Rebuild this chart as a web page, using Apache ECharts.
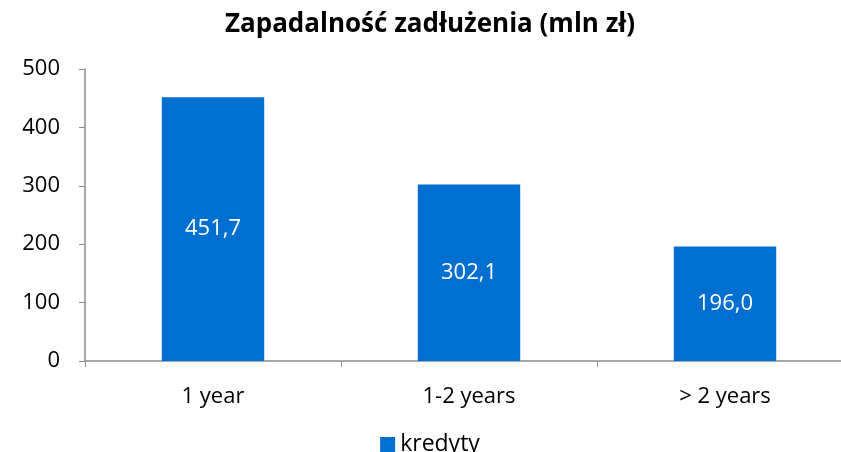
<!DOCTYPE html>
<html>
<head>
<meta charset="utf-8">
<script src="https://cdn.jsdelivr.net/npm/echarts@6/dist/echarts.min.js"></script>
<style>
  html, body { margin: 0; padding: 0; background: #fff; overflow: hidden; }
  #chart { width: 860px; height: 452px; }
</style>
</head>
<body>
<div id="chart"></div>
<script>
const categories = ['1 year', '1-2 years', '> 2 years']
const kredyty = [451.7, 302.1, 196.0]
const yTicks = [0, 100, 200, 300, 400, 500]

// the plot area runs past the right edge in the original, so the canvas is a bit wider than the window
const chart = echarts.init(document.getElementById('chart'))
const font = 'Open Sans'

const option = {
  animation: false,
  textStyle: { fontFamily: font },
  title: {
    text: 'Zapadalność zadłużenia (mln zł)',
    left: 'center',
    top: 7,
    textStyle: { fontFamily: font, fontSize: 26, fontWeight: 'bold', color: '#000' }
  },
  legend: {
    data: ['kredyty'],
    top: 428,
    left: 'center',
    icon: 'rect',
    itemWidth: 15,
    itemHeight: 15,
    itemGap: 6,
    textStyle: { fontFamily: font, fontSize: 23, color: '#000' }
  },
  grid: {
    left: 85,
    right: 7,
    top: 69,
    bottom: 91,
    containLabel: false
  },
  xAxis: {
    type: 'category',
    data: categories,
    axisLine: { lineStyle: { color: '#8c8c8c', width: 1.5 } },
    axisTick: { show: true, length: 6, lineStyle: { color: '#8c8c8c' } },
    axisLabel: { color: '#000', fontSize: 22, margin: 25, fontFamily: font }
  },
  yAxis: {
    type: 'value',
    min: yTicks[0],
    max: yTicks[yTicks.length - 1],
    interval: 100,
    axisLine: { show: true, lineStyle: { color: '#8c8c8c', width: 1.5 } },
    axisTick: { show: true, length: 6, lineStyle: { color: '#8c8c8c' } },
    splitLine: { show: false },
    axisLabel: { color: '#000', fontSize: 22, margin: 25, fontFamily: font }
  },
  series: [
    {
      name: 'kredyty',
      type: 'bar',
      barWidth: '40%',
      itemStyle: { color: '#006fd0' },
      label: {
        show: true,
        position: 'inside',
        color: '#fff',
        fontSize: 22,
        fontFamily: font,
        formatter: (p) => p.value.toFixed(1).replace('.', ',')
      },
      data: kredyty
    }
  ]
}

chart.setOption(option)
</script>
</body>
</html>
